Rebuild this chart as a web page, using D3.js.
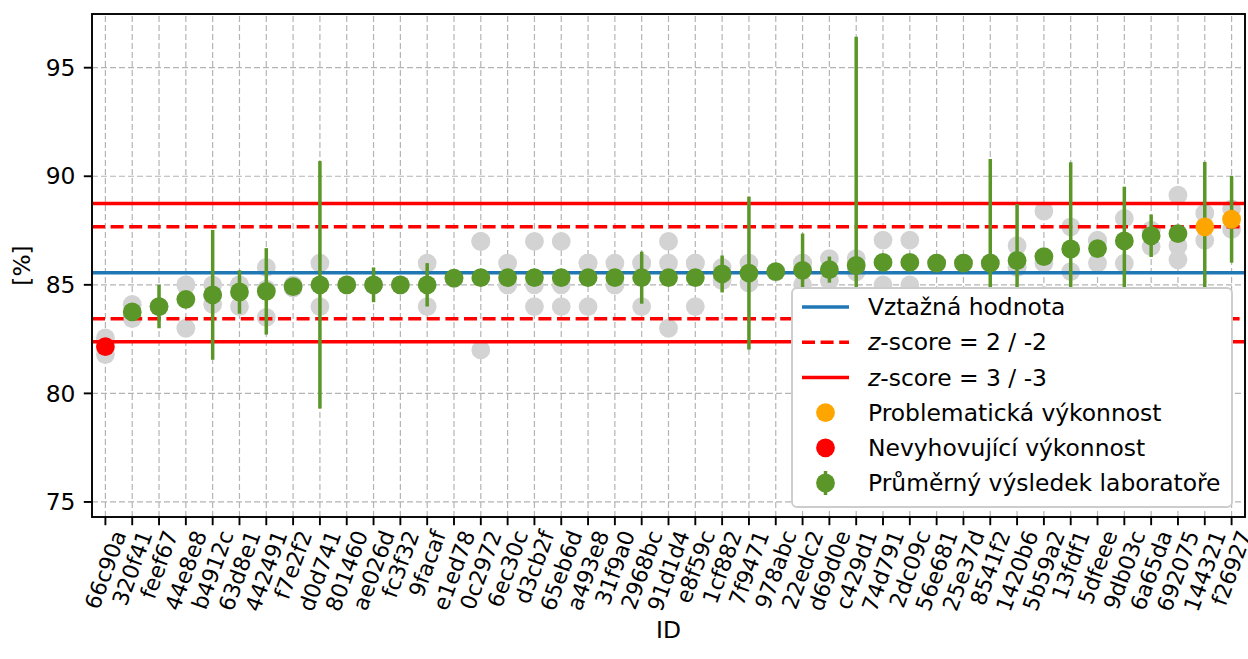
<!DOCTYPE html>
<html>
<head>
<meta charset="utf-8">
<script src="https://cdn.jsdelivr.net/npm/d3@7"></script>
<style>
  body { margin: 0; background: #fff; }
  svg text { font-family: "DejaVu Sans", sans-serif; fill: #000; }
</style>
</head>
<body>
<svg id="chart" width="1248" height="659"></svg>
<script>
// laboratories, sorted by mean result
var labs = ["66c90a","320f41","feef67","44e8e8","b4912c","63d8e1","442491","f7e2f2","d0d741","801460",
  "ae026d","fc3f32","9facaf","e1ed78","0c2972","6ec30c","d3cb2f","65eb6d","a493e8","31f9a0",
  "2968bc","91d1d4","e8f59c","1cf882","7f9471","978abc","22edc2","d69d0e","c429d1","74d791",
  "2dc09c","56e681","25e37d","8541f2","1420b6","5b59a2","13fdf1","5dfeee","9db03c","6a65da",
  "692075","144321","f26927"];

var means = [82.15, 83.75, 84.0, 84.33, 84.54, 84.67, 84.7, 84.92, 85.0, 85.0,
  85.0, 85.0, 85.0, 85.31, 85.33, 85.33, 85.33, 85.33, 85.33, 85.33,
  85.33, 85.33, 85.33, 85.5, 85.54, 85.61, 85.67, 85.7, 85.89, 86.03,
  86.03, 86.0, 86.0, 86.0, 86.12, 86.3, 86.65, 86.67, 87.02, 87.26,
  87.36, 87.67, 88.02];

// half width of the error bar (0 = none drawn)
var errs = [0, 0, 1.0, 0, 2.99, 1.0, 1.99, 0, 5.7, 0,
  0.8, 0, 1.0, 0, 0, 0, 0, 0, 0, 0,
  1.2, 0, 0, 0.85, 3.52, 0, 1.69, 0.6, 10.53, 0,
  0, 0, 0, 4.8, 2.6, 0, 4.0, 0, 2.5, 0.98,
  0, 2.99, 2.0];

// individual results of each laboratory (grey points)
var reps = [[82.55, 81.79], [84.1, 83.45], [84.0, 84.0], [85.0, 85.0, 83.0], [85.0, 84.5, 84.1],
  [85.0, 85.0, 84.0], [85.8, 84.8, 83.5], [85.0, 84.85], [86.0, 84.0], [85.0, 85.0],
  [85.0, 85.0], [85.0, 85.0], [86.0, 84.0], [85.3, 85.3], [87.0, 87.0, 82.0],
  [86.0, 85.0, 85.0], [87.0, 85.0, 84.0], [87.0, 85.0, 84.0], [86.0, 86.0, 84.0], [86.0, 85.0, 85.0],
  [86.0, 86.0, 84.0], [87.0, 86.0, 83.0], [86.0, 86.0, 84.0], [85.8, 85.2], [86.0, 85.08],
  [85.6, 85.6], [86.0, 86.0, 85.0], [86.2, 85.2], [86.2, 85.6], [87.06, 85.0],
  [87.06, 85.0], [86.0, 86.0], [86.0, 86.0], [86.0, 86.0], [86.8, 85.8, 85.8],
  [88.4, 86.0, 84.5], [87.67, 85.61], [87.06, 87.0, 86.0], [88.06, 85.99], [87.52, 87.5, 86.76],
  [89.13, 86.8, 86.15], [88.3, 87.05], [88.5, 87.55]];

var problematic = ["144321", "f26927"];
var failing = ["66c90a"];

var refValue = 85.56;
var sigma = 1.06;
var yTicks = [75, 80, 85, 90, 95];

var legendItems = [
  {label: "Vztažná hodnota", type: "line", color: "#1f77b4", dash: null},
  {label: "-score = 2 / -2", italic: "z", type: "line", color: "#ff0000", dash: "13,5.6"},
  {label: "-score = 3 / -3", italic: "z", type: "line", color: "#ff0000", dash: null},
  {label: "Problematická výkonnost", type: "dot", color: "orange"},
  {label: "Nevyhovující výkonnost", type: "dot", color: "#ff0000"},
  {label: "Průměrný výsledek laboratoře", type: "err", color: "#5a9628"}
];

var green = "#5a9628";
var fs = 23.4;
var fsX = 22;
var margin = {left: 92, right: 3, top: 14, bottom: 142};
var W = 1248, H = 659;

var svg = d3.select("#chart");

var x = d3.scalePoint()
  .domain(labs)
  .range([margin.left, W - margin.right])
  .padding(0.5);

// y limits like matplotlib autoscale: data extent + 5 %
var lows = [], highs = [];
labs.forEach(function(l, i) {
  lows.push(means[i] - errs[i]); highs.push(means[i] + errs[i]);
  reps[i].forEach(function(v) { lows.push(v); highs.push(v); });
});
var yMin = d3.min(lows), yMax = d3.max(highs);
var pad = (yMax - yMin) * 0.05;

var y = d3.scaleLinear()
  .domain([yMin - pad, yMax + pad])
  .range([H - margin.bottom, margin.top]);

var x0 = margin.left, x1 = W - margin.right;
var y0 = H - margin.bottom, y1 = margin.top;

// grid
var grid = svg.append("g").attr("stroke", "#b4b4b4").attr("stroke-width", 1.2)
  .attr("stroke-dasharray", "6,3");
grid.selectAll("line.gx").data(labs).enter().append("line")
  .attr("x1", function(d) { return x(d); }).attr("x2", function(d) { return x(d); })
  .attr("y1", y0).attr("y2", y1);
grid.selectAll("line.gy").data(yTicks).enter().append("line")
  .attr("y1", function(d) { return y(d); }).attr("y2", function(d) { return y(d); })
  .attr("x1", x0).attr("x2", x1);

// individual results
var repPts = [];
labs.forEach(function(l, i) {
  reps[i].forEach(function(v) { repPts.push({lab: l, v: v}); });
});
svg.append("g").selectAll("circle").data(repPts).enter().append("circle")
  .attr("cx", function(d) { return x(d.lab); })
  .attr("cy", function(d) { return y(d.v); })
  .attr("r", 9.4)
  .attr("fill", "#d3d3d3");

// reference value and z-score limits
var hlines = [
  {v: refValue, color: "#1f77b4", dash: null},
  {v: refValue + 2 * sigma, color: "#ff0000", dash: "13,5.6"},
  {v: refValue - 2 * sigma, color: "#ff0000", dash: "13,5.6"},
  {v: refValue + 3 * sigma, color: "#ff0000", dash: null},
  {v: refValue - 3 * sigma, color: "#ff0000", dash: null}
];
svg.append("g").selectAll("line").data(hlines).enter().append("line")
  .attr("x1", x0).attr("x2", x1)
  .attr("y1", function(d) { return y(d.v); }).attr("y2", function(d) { return y(d.v); })
  .attr("stroke", function(d) { return d.color; })
  .attr("stroke-width", 3.5)
  .attr("stroke-dasharray", function(d) { return d.dash; });

// error bars
svg.append("g").selectAll("line").data(labs.filter(function(l, i) { return errs[i] > 0; }))
  .enter().append("line")
  .attr("x1", function(d) { return x(d); }).attr("x2", function(d) { return x(d); })
  .attr("y1", function(d) { var i = labs.indexOf(d); return y(means[i] - errs[i]); })
  .attr("y2", function(d) { var i = labs.indexOf(d); return y(means[i] + errs[i]); })
  .attr("stroke", green).attr("stroke-width", 3.5);

// mean results
svg.append("g").selectAll("circle").data(labs).enter().append("circle")
  .attr("cx", function(d) { return x(d); })
  .attr("cy", function(d, i) { return y(means[i]); })
  .attr("r", 9.4)
  .attr("fill", function(d) {
    if (failing.indexOf(d) >= 0) return "#ff0000";
    if (problematic.indexOf(d) >= 0) return "orange";
    return green;
  });

// frame
svg.append("rect").attr("x", x0).attr("y", y1).attr("width", x1 - x0).attr("height", y0 - y1)
  .attr("fill", "none").attr("stroke", "#000").attr("stroke-width", 1.9);

// y axis ticks
var yAx = svg.append("g");
yTicks.forEach(function(t) {
  yAx.append("line").attr("x1", x0 - 8.2).attr("x2", x0).attr("y1", y(t)).attr("y2", y(t))
    .attr("stroke", "#000").attr("stroke-width", 1.9);
  yAx.append("text").attr("x", x0 - 16.5).attr("y", y(t)).attr("dy", "0.35em")
    .attr("text-anchor", "end").attr("font-size", fs).text(t);
});

// x axis ticks, labels rotated 70 degrees, bbox centred under the tick
var xAx = svg.append("g");
var rot = 70 * Math.PI / 180;
labs.forEach(function(l) {
  var px = x(l);
  xAx.append("line").attr("x1", px).attr("x2", px).attr("y1", y0).attr("y2", y0 + 8.2)
    .attr("stroke", "#000").attr("stroke-width", 1.9);
  var t = xAx.append("text").attr("font-size", fsX).attr("text-anchor", "middle")
    .attr("dy", "0.35em").text(l);
  var w = t.node().getComputedTextLength();
  var hb = w * Math.sin(rot) + fsX * 1.16 * Math.cos(rot);
  var cy = y0 + 10 + hb / 2;
  t.attr("transform", "translate(" + px + "," + cy + ") rotate(-70)");
});

// axis titles
svg.append("text").attr("x", (x0 + x1) / 2).attr("y", 630).attr("dy", "0.35em")
  .attr("text-anchor", "middle").attr("font-size", fs).text("ID");
svg.append("text").attr("transform", "translate(22," + ((y0 + y1) / 2) + ") rotate(-90)")
  .attr("dy", "0.35em").attr("text-anchor", "middle").attr("font-size", fs).text("[%]");

// legend
var lg = svg.append("g");
var lgX = 792, lgY = 288, lgW = 440, lgH = 219, rowH = 35.2;
lg.append("rect").attr("x", lgX).attr("y", lgY).attr("width", lgW).attr("height", lgH)
  .attr("rx", 5).attr("fill", "#fff").attr("stroke", "#cccccc").attr("stroke-width", 1.9);
legendItems.forEach(function(it, k) {
  var cy = lgY + 19 + k * rowH;
  if (it.type === "line") {
    lg.append("line").attr("x1", lgX + 10).attr("x2", lgX + 57).attr("y1", cy).attr("y2", cy)
      .attr("stroke", it.color).attr("stroke-width", 3.5).attr("stroke-dasharray", it.dash);
  } else {
    if (it.type === "err") {
      lg.append("line").attr("x1", lgX + 33.5).attr("x2", lgX + 33.5)
        .attr("y1", cy - 12).attr("y2", cy + 12).attr("stroke", it.color).attr("stroke-width", 3.5);
    }
    lg.append("circle").attr("cx", lgX + 33.5).attr("cy", cy).attr("r", 9.4).attr("fill", it.color);
  }
  var tx = lg.append("text").attr("x", lgX + 76).attr("y", cy).attr("dy", "0.35em").attr("font-size", fs);
  if (it.italic) tx.append("tspan").attr("font-style", "italic").text(it.italic);
  tx.append("tspan").text(it.label);
});
</script>
</body>
</html>
